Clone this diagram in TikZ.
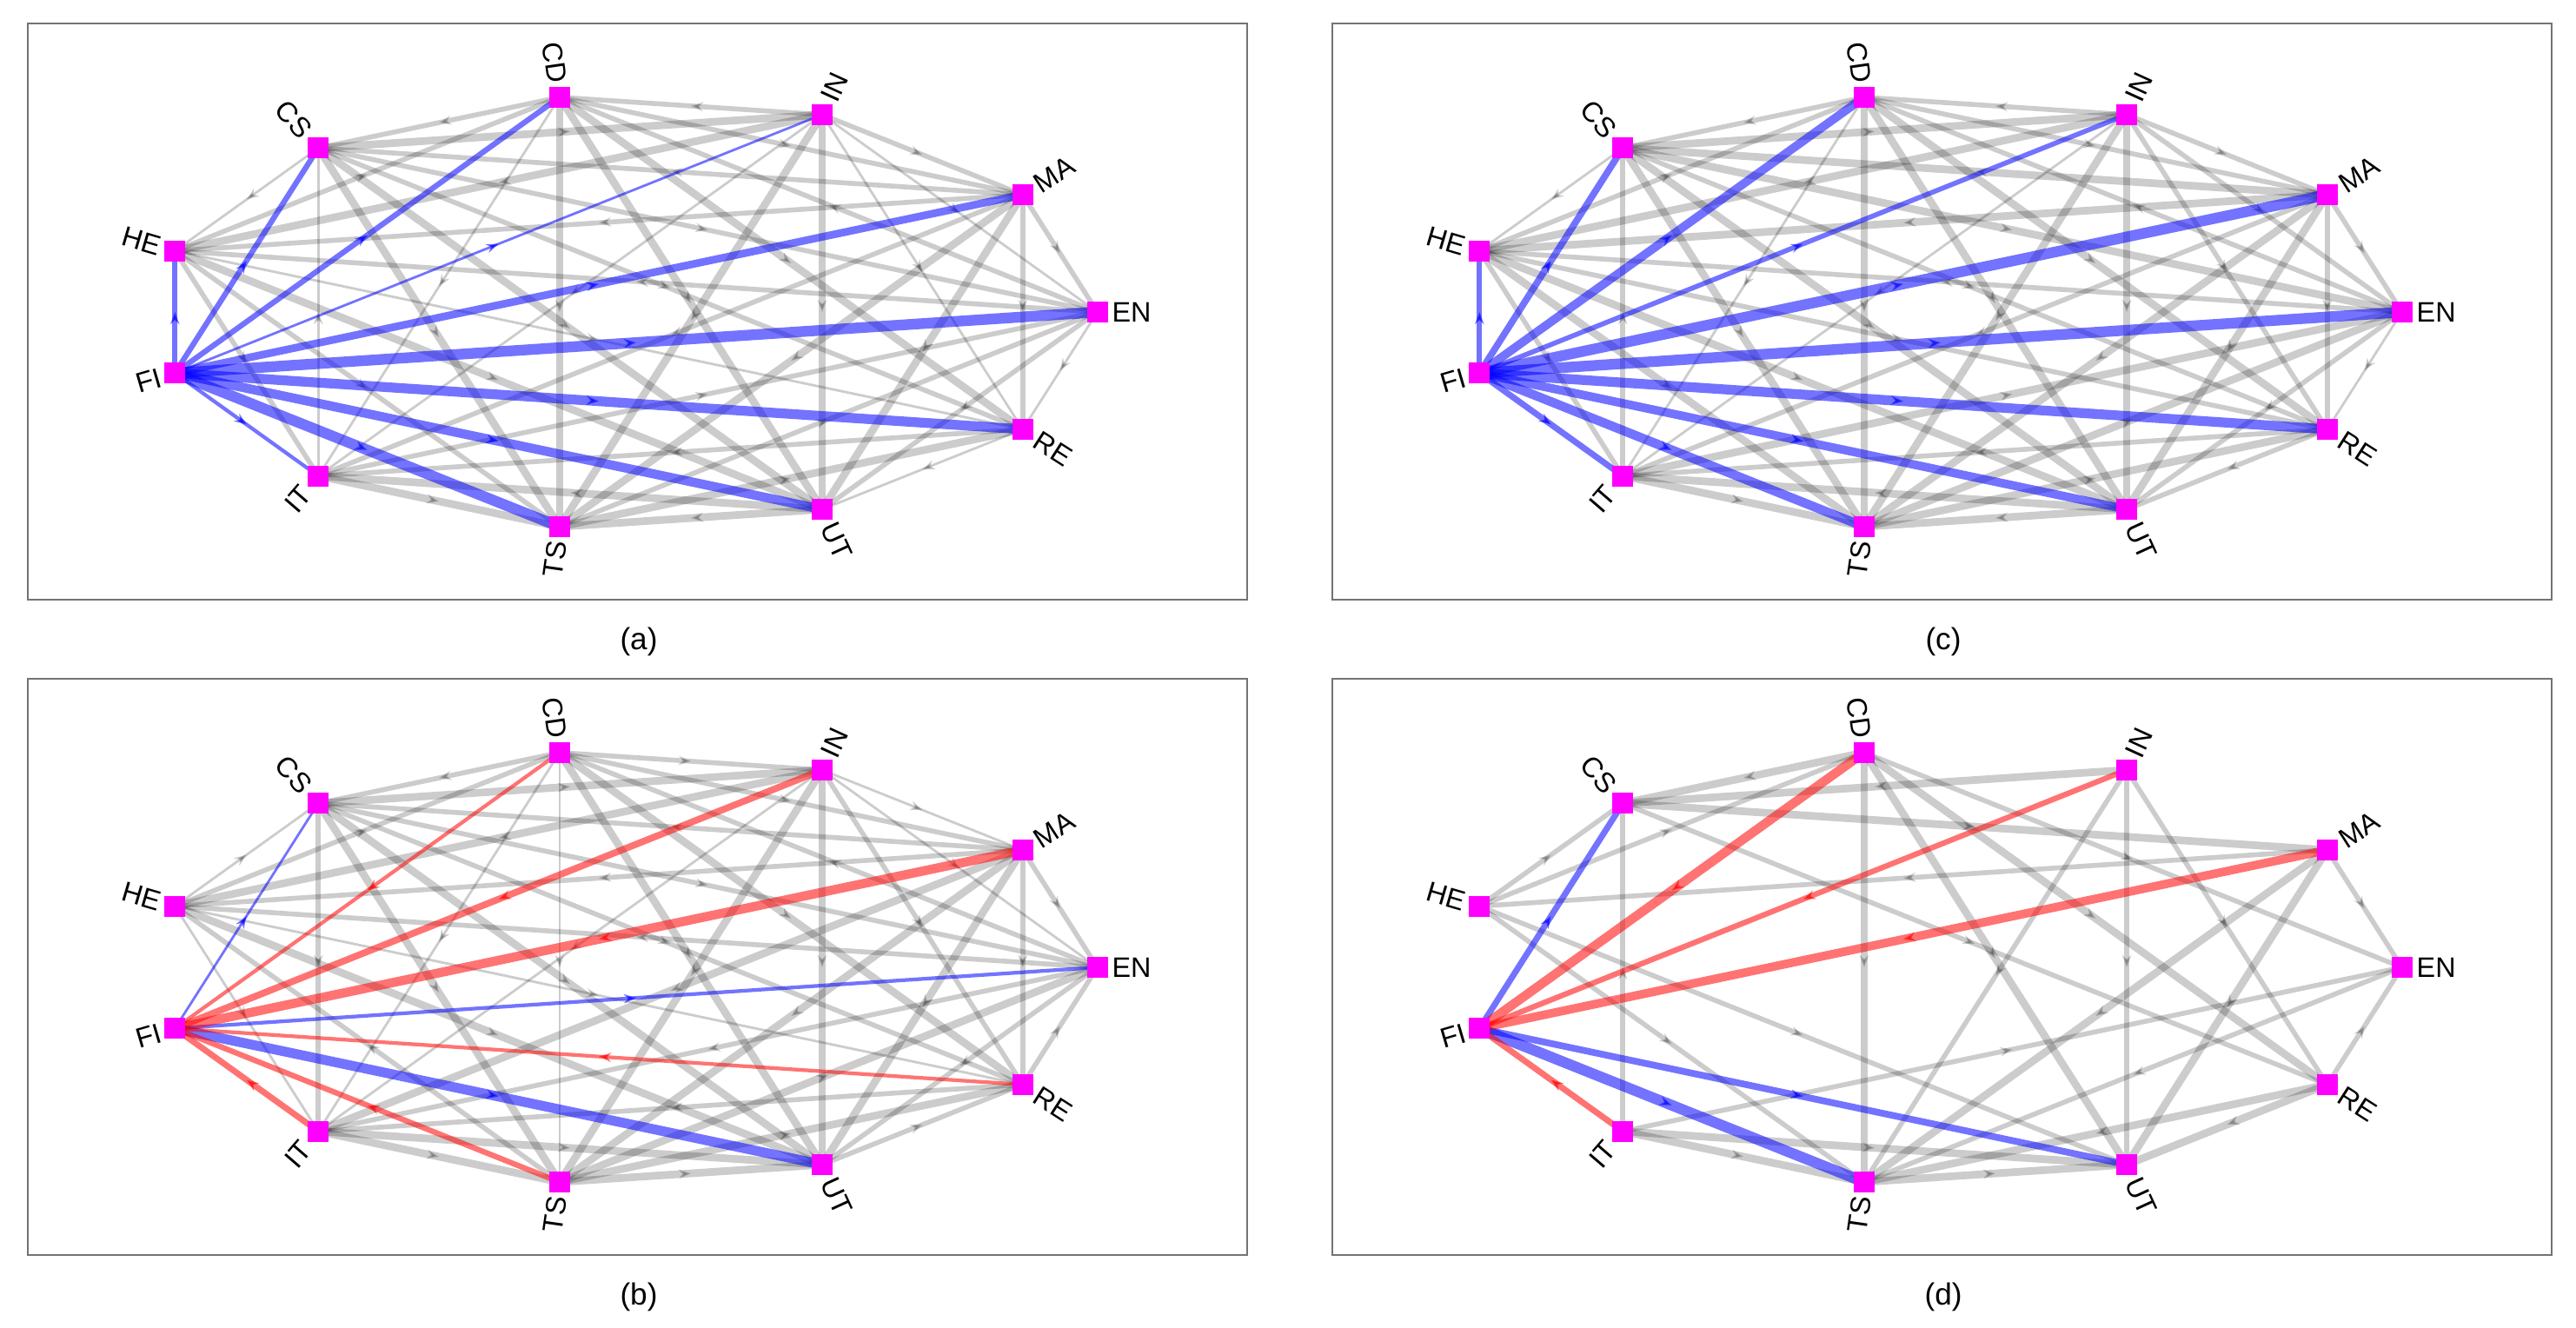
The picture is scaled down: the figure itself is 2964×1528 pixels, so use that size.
\documentclass[tikz,border=0pt]{standalone}
\usepackage{fontspec}
\setmainfont{Liberation Sans}
\usetikzlibrary{arrows.meta,decorations.markings,backgrounds}

\definecolor{vmag}{RGB}{255,0,255}
\tikzset{
  vtx/.style={rectangle,fill=vmag,minimum size=0.24cm,inner sep=0pt},
  vlbl/.style={font=\fontsize{9.2}{10}\selectfont,inner sep=1pt},
  rlbl/.style={vlbl,rotate=#1,anchor=west},
  llbl/.style={vlbl,rotate=#1-180,anchor=east},
  frame/.style={draw=black!55,line width=0.6pt},
  caption/.style={font=\fontsize{10}{12}\selectfont},
  tip/.style={postaction={decorate},
    decoration={markings,mark=at position 0.5 with {\arrow{Stealth[length=4pt,width=3pt]}}}},
  gt/.style={tip,draw=black,opacity=0.2,line width=0.8pt},
  gm/.style={tip,draw=black,opacity=0.2,line width=1.6pt},
  gk/.style={tip,draw=black,opacity=0.2,line width=2.5pt},
  bl/.style={tip,draw=blue,opacity=0.55,line width=#1},
  rd/.style={tip,draw=red,opacity=0.55,line width=#1},
}

\begin{document}
\begin{tikzpicture}[x=0.01cm,y=-0.01cm]
  \useasboundingbox (0,0) rectangle (2964,1528);
  % four panels, same eleven vertices on an ellipse
  \foreach \p/\dx/\dy in {a/0/0,c/1501/0,b/0/754,d/1501/754}{
    \begin{scope}[shift={(721+\dx,359+\dy)}]
      \draw[frame] (-689,-332) rectangle (714,331);
      \node[caption] (\p-cap) at (14,379) {(\p)};
      \draw
        (0.000:5.414cm and 2.495cm) node[vtx,label={[rlbl=0.000]0.000:EN}] (\p-EN) {}
        (32.727:5.414cm and 2.495cm) node[vtx,label={[rlbl=32.727]32.727:MA}] (\p-MA) {}
        (65.455:5.414cm and 2.495cm) node[vtx,label={[rlbl=65.455]65.455:IN}] (\p-IN) {}
        (98.182:5.414cm and 2.495cm) node[vtx,label={[llbl=98.182]98.182:CD}] (\p-CD) {}
        (130.909:5.414cm and 2.495cm) node[vtx,label={[llbl=130.909]130.909:CS}] (\p-CS) {}
        (163.636:5.414cm and 2.495cm) node[vtx,label={[llbl=163.636]163.636:HE}] (\p-HE) {}
        (196.364:5.414cm and 2.495cm) node[vtx,label={[llbl=196.364]196.364:FI}] (\p-FI) {}
        (229.091:5.414cm and 2.495cm) node[vtx,label={[llbl=229.091]229.091:IT}] (\p-IT) {}
        (261.818:5.414cm and 2.495cm) node[vtx,label={[llbl=261.818]261.818:TS}] (\p-TS) {}
        (294.545:5.414cm and 2.495cm) node[vtx,label={[rlbl=294.545]294.545:UT}] (\p-UT) {}
        (327.273:5.414cm and 2.495cm) node[vtx,label={[rlbl=327.273]327.273:RE}] (\p-RE) {};
    \end{scope}
  }
  \begin{pgfonlayer}{background}
    % (a)
    \foreach \u/\v in {CS/HE,EN/RE,RE/UT,IN/EN,IN/RE,IT/CS,CD/IT,HE/RE,IN/IT}
      \draw[gt] (a-\u.center) -- (a-\v.center);
    \foreach \u/\v in {IN/CD,IN/MA,MA/EN,CD/MA,MA/RE,EN/UT,HE/IT,HE/CD,EN/CD,TS/EN,
                       RE/IT,HE/TS,MA/CS,IT/EN,MA/HE,CS/EN,MA/IT,EN/HE,CS/RE,CD/CS}
      \draw[gm] (a-\u.center) -- (a-\v.center);
    \foreach \u/\v in {UT/TS,IT/TS,TS/RE,UT/IT,MA/UT,IN/HE,CD/RE,IN/UT,MA/TS,HE/UT,
                       CS/TS,CD/UT,IN/TS,CS/UT,CD/TS,CS/IN}
      \draw[gk] (a-\u.center) -- (a-\v.center);
    \foreach \v/\w in {HE/1.6,CS/1.8,CD/1.8,IN/0.8,MA/2.5,EN/3.5,RE/3.2,UT/3,TS/3.5,IT/1.2}
      \draw[bl=\w pt] (a-FI.center) -- (a-\v.center);
    % (c)
    \foreach \u/\v in {CS/HE,EN/RE,IN/IT,CD/IT}
      \draw[gt] (c-\u.center) -- (c-\v.center);
    \foreach \u/\v in {RE/UT,IN/EN,IN/RE,IT/CS,HE/RE,IN/CD,IN/MA,MA/EN,CD/MA,MA/RE,
                       EN/UT,HE/IT,HE/CD,EN/CD,RE/IT,MA/IT,EN/HE,CD/CS,CS/RE}
      \draw[gm] (c-\u.center) -- (c-\v.center);
    \foreach \u/\v in {TS/EN,HE/TS,MA/CS,IT/EN,MA/HE,CS/EN,UT/TS,IT/TS,TS/RE,UT/IT,
                       MA/UT,IN/HE,CD/RE,IN/UT,MA/TS,HE/UT,CS/TS,CD/UT,IN/TS,CS/UT,
                       CD/TS,CS/IN}
      \draw[gk] (c-\u.center) -- (c-\v.center);
    \foreach \v/\w in {HE/1.8,CS/2.2,CD/2.8,IN/1.6,MA/3.5,EN/3.5,RE/3.2,UT/2.8,TS/3,IT/2}
      \draw[bl=\w pt] (c-FI.center) -- (c-\v.center);
    % (b)
    \foreach \u/\v in {CD/TS,HE/CS,IN/MA,HE/IT,IN/IT,CD/IT,IN/EN,HE/RE}
      \draw[gt] (b-\u.center) -- (b-\v.center);
    \foreach \u/\v in {CD/IN,CD/CS,UT/RE,RE/EN,MA/EN,CS/IT,MA/RE,CD/MA,EN/UT,HE/CD,
                       EN/CD,IN/RE,RE/IT,TS/HE,MA/HE,CS/EN,EN/HE,CS/RE,EN/IT,MA/CS}
      \draw[gm] (b-\u.center) -- (b-\v.center);
    \foreach \u/\v in {IT/TS,TS/UT,TS/RE,IT/UT,MA/UT,IN/HE,CD/RE,IN/UT,MA/TS,HE/UT,
                       CS/TS,CD/UT,IN/TS,CS/UT,CS/IN,MA/IT,TS/EN}
      \draw[gk] (b-\u.center) -- (b-\v.center);
    \foreach \v/\w in {CS/0.8,EN/1.2,UT/3.2}
      \draw[bl=\w pt] (b-FI.center) -- (b-\v.center);
    \foreach \u/\w in {CD/1.2,IN/2.2,MA/3,RE/1.2,TS/1.8,IT/2}
      \draw[rd=\w pt] (b-\u.center) -- (b-FI.center);
    % (d)
    \foreach \u/\v in {HE/CS,IT/CS,HE/CD,MA/HE,HE/UT,HE/TS,IN/UT,IN/TS,IN/RE,MA/EN,
                       IT/EN,EN/TS,RE/EN,CS/RE,CD/EN}
      \draw[gm] (d-\u.center) -- (d-\v.center);
    \foreach \u/\v in {CD/CS,IN/CS,CS/MA,CD/TS,CD/UT,CD/RE,MA/TS,MA/UT,RE/UT,RE/TS,
                       IT/TS,IT/UT,TS/UT}
      \draw[gk] (d-\u.center) -- (d-\v.center);
    \foreach \v/\w in {CS/2,UT/2.2,TS/3.5}
      \draw[bl=\w pt] (d-FI.center) -- (d-\v.center);
    \foreach \u/\w in {CD/3,IN/1.8,MA/2.8,IT/2}
      \draw[rd=\w pt] (d-\u.center) -- (d-FI.center);
  \end{pgfonlayer}
\end{tikzpicture}
\end{document}
